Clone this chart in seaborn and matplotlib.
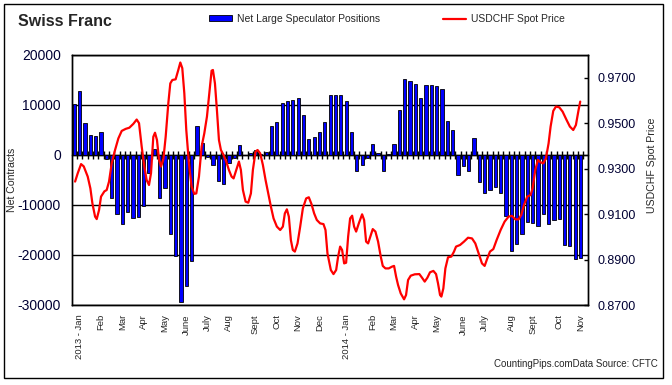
import numpy as np
import pandas as pd
import matplotlib
matplotlib.use("Agg")
import matplotlib.pyplot as plt
from matplotlib.patches import Patch, Rectangle
from matplotlib.lines import Line2D
from matplotlib.ticker import FormatStrFormatter
import seaborn as sns

# weekly net large speculator positions (CFTC), Jan 2013 -> Nov 2014
net_positions = [
    10200, 12800, 6400, 4000, 3800, 4700, -800, -8500, -11700, -13700, -11300, -12500,
    -12300, -10100, -3500, 1200, -8500, -6500, -15700, -20200, -29300, -26100, -21100, 5800,
    2400, -300, -1900, -5100, -5700, -1500, -500, 2000, 100, 400, 1000, 200,
    600, 5800, 6700, 10400, 10800, 11000, 11400, 8000, 3200, 3600, 4600, 6700,
    12000, 12000, 12000, 10800, 4600, -3100, -2000, -600, 2200, 400, -3100, 200,
    2200, 9000, 15200, 14800, 14200, 11400, 14000, 14000, 13800, 13200, 6800, 5000,
    -4000, -2200, -3200, 3400, -5400, -7500, -7000, -6400, -7600, -12100, -19100, -17700,
    -15700, -13300, -13500, -14100, -11700, -13700, -12900, -12700, -17900, -18100, -20700, -20500,
]

month_labels = ["2013 - Jan", "Feb", "Mar", "Apr", "May", "June", "July", "Aug", "Sept",
                "Oct", "Nov", "Dec", "2014 - Jan", "Feb", "Mar", "Apr", "May", "June",
                "July", "Aug", "Sept", "Oct", "Nov"]
month_weeks = [1, 5, 9, 13, 17, 21, 25, 29, 34, 38, 42, 46, 51, 56, 60, 64, 68, 73, 77, 82, 86, 91, 95]

# USDCHF spot price, read at fractional week positions
price_week = [
    0.13, 0.63, 1.25, 1.75, 2.5, 3.0, 3.38, 3.88, 4.19, 4.63, 5.0, 5.63, 6.06, 6.5, 7.0, 7.63,
    8.25, 8.88, 9.63, 10.31, 11.06, 11.69, 12.13, 12.63, 13.13, 13.56, 14.0, 14.38, 14.81, 15.13,
    15.5, 15.88, 16.25, 16.69, 17.13, 17.63, 18.0, 18.38, 19.0, 19.5, 19.88, 20.25, 20.63, 21.0,
    21.5, 22.0, 22.5,
    22.88, 23.38, 23.88, 24.38, 24.88, 25.38, 25.75, 26.0, 26.38, 26.75, 27.13, 27.5, 28.0, 28.5,
    29.0, 29.5, 29.88, 30.38, 30.88, 31.25, 31.63, 32.13, 32.63, 33.13, 33.5, 34.0, 34.38, 34.88,
    35.38, 35.88, 36.38, 36.88, 37.38, 38.0, 38.63, 39.13, 39.5, 39.88, 40.25, 40.63, 41.0, 41.38,
    41.88, 42.38, 42.88, 43.5, 44.0, 44.5, 45.0, 45.5, 46.13, 46.75, 47.13, 47.5,
    48.13, 48.63, 49.13, 49.5, 49.88, 50.25, 50.63, 51.0, 51.38, 51.75, 52.13, 52.5, 52.88, 53.38,
    54.0, 54.38, 54.75, 55.13, 55.5, 56.0, 56.5, 57.0, 57.5, 57.88, 58.38, 59.0, 59.63, 60.0,
    60.38, 60.75, 61.25, 61.88, 62.25, 62.63, 63.13, 63.88, 64.75, 65.25, 65.75, 66.25, 66.75,
    67.38, 67.88, 68.25, 68.63, 68.88, 69.25, 69.63, 70.13, 70.75, 71.25, 71.63,
    72.38, 73.13, 73.88, 74.63, 75.25, 75.88, 76.5, 77.0, 77.5, 78.0, 78.63, 79.25, 80.0, 80.75,
    81.5, 82.13, 82.75, 83.38, 83.88, 84.38, 85.0, 85.63, 86.0, 86.5, 87.0, 87.5, 88.0, 88.5,
    89.0, 89.38, 89.88, 90.38, 91.0, 91.63, 92.38, 93.0, 93.63, 94.13, 94.63, 94.94,
]
price_value = [
    0.9243, 0.9280, 0.9320, 0.9310, 0.9265, 0.9213, 0.9147, 0.9089, 0.9078, 0.9118, 0.9177, 0.9200,
    0.9206, 0.9243, 0.9323, 0.9382, 0.9433, 0.9466, 0.9475, 0.9480, 0.9497, 0.9516, 0.9500, 0.9397,
    0.9309, 0.9250, 0.9228, 0.9280, 0.9440, 0.9458, 0.9426, 0.9340, 0.9309, 0.9340, 0.9440, 0.9588,
    0.9675, 0.9690, 0.9693, 0.9734, 0.9767, 0.9742, 0.9632, 0.9470, 0.9323, 0.9221, 0.9189,
    0.9191, 0.9265, 0.9397, 0.9455, 0.9529, 0.9646, 0.9731, 0.9734, 0.9675, 0.9558, 0.9426, 0.9382,
    0.9360, 0.9331, 0.9294, 0.9265, 0.9257, 0.9294, 0.9331, 0.9294, 0.9206, 0.9155, 0.9150, 0.9191,
    0.9294, 0.9375, 0.9382, 0.9367, 0.9316, 0.9250, 0.9191, 0.9133, 0.9081, 0.9045, 0.9030, 0.9045,
    0.9103, 0.9121, 0.9089, 0.8986, 0.8942, 0.8935, 0.8971, 0.9045, 0.9125, 0.9169, 0.9174, 0.9144,
    0.9103, 0.9074, 0.9059, 0.9056, 0.9030, 0.8927,
    0.8854, 0.8836, 0.8854, 0.8913, 0.8957, 0.8942, 0.8883, 0.8886, 0.9001, 0.9081, 0.9093, 0.9045,
    0.9023, 0.9059, 0.9099, 0.9074, 0.8979, 0.8971, 0.8998, 0.9034, 0.9023, 0.8979, 0.8913, 0.8872,
    0.8861, 0.8861, 0.8869, 0.8872, 0.8825, 0.8788, 0.8751, 0.8725, 0.8744, 0.8810, 0.8829, 0.8835,
    0.8836, 0.8820, 0.8803, 0.8820, 0.8844, 0.8850, 0.8836, 0.8795, 0.8744, 0.8737, 0.8773, 0.8861,
    0.8910, 0.8913, 0.8935, 0.8957,
    0.8964, 0.8979, 0.8996, 0.8993, 0.8971, 0.8927, 0.8883, 0.8872, 0.8905, 0.8935, 0.8946, 0.8986,
    0.9030, 0.9067, 0.9089, 0.9092, 0.9077, 0.9077, 0.9096, 0.9140, 0.9177, 0.9184, 0.9213, 0.9294,
    0.9338, 0.9328, 0.9323, 0.9345, 0.9411, 0.9485, 0.9554, 0.9573, 0.9570, 0.9551, 0.9514, 0.9485,
    0.9470, 0.9492, 0.9558, 0.9595,
]

sns.set_theme(style="white")
plt.rcParams["font.family"] = ["Liberation Sans", "DejaVu Sans"]
plt.rcParams["axes.unicode_minus"] = False

W, H = 672, 385
fig = plt.figure(figsize=(W / 100, H / 100), dpi=100)
ax = fig.add_axes([72 / W, 1 - 305 / H, 516 / W, 250 / H])

df = pd.DataFrame({"week": np.arange(len(net_positions)), "net": net_positions})
sns.barplot(data=df, x="week", y="net", color="#0000ff", saturation=1, width=0.6,
            edgecolor="black", linewidth=0.6, ax=ax)

ymin, ymax = -30000, 20000
ax.set_ylim(ymin, ymax)
ax.set_yticks(np.arange(ymin, ymax + 1, 10000))
ax.yaxis.grid(True, color="black", lw=1)
ax.set_axisbelow(True)
ax.tick_params(axis="y", length=0, labelsize=10, pad=8, labelcolor="#000033")
ax.set_ylabel("Net Contracts", fontsize=7.6)
ax.yaxis.set_label_coords(-0.106, 0.5)

ax.set_xticks(month_weeks)
ax.set_xticklabels(month_labels, rotation=90, fontsize=6.8)
ax.tick_params(axis="x", length=0, pad=6.5)
ax.set_xlabel("")
for s in ax.spines.values():
    s.set_color("black")
    s.set_linewidth(1)

# category axis crossing at zero, with ticks between the weeks
zero_frac = (0 - ymin) / (ymax - ymin)
sec = ax.secondary_xaxis(zero_frac)
between = np.arange(-0.5, len(net_positions), 1.0)
sec.set_xticks(between, labels=[""] * len(between))
sec.tick_params(direction="inout", length=6, width=1, color="black")
for s in sec.spines.values():
    s.set_color("black")
    s.set_linewidth(1)

ax2 = ax.twinx()
sns.lineplot(x=price_week, y=price_value, color="#ff0000", lw=1.6, ax=ax2)
ax2.set_ylim(0.87, 0.98)
ax2.set_yticks(np.arange(0.87, 0.9701, 0.02))
ax2.yaxis.set_major_formatter(FormatStrFormatter("%.4f"))
ax2.tick_params(axis="y", direction="in", length=3, width=1, color="black",
                labelsize=9, labelcolor="#000033", pad=6.5)
ax2.set_ylabel("USDCHF Spot Price", fontsize=7.6)
ax2.yaxis.set_label_coords(1.114, 0.56)
ax2.set_xlabel("")
ax2.grid(False)
for s in ax2.spines.values():
    s.set_color("black")
    s.set_linewidth(1)

ax.set_xlim(-0.45, 96.4)

fig.text(18 / W, 1 - 22 / H, "Swiss Franc", fontsize=11.5, fontweight="bold", va="center")

handles = [Patch(facecolor="#0000ff", edgecolor="black", lw=0.6),
           Line2D([], [], color="#ff0000", lw=1.6)]
fig.legend(handles, ["Net Large Speculator Positions", "USDCHF Spot Price"],
           loc="center left", bbox_to_anchor=(209 / W, 1 - 19 / H), ncol=2, frameon=False,
           fontsize=7.5, handlelength=2.2, handleheight=0.55, handletextpad=0.5,
           columnspacing=6, borderpad=0, borderaxespad=0)

fig.text(658 / W, 1 - 364 / H, "CountingPips.comData Source: CFTC", ha="right",
         va="center", fontsize=7)

fig.add_artist(Rectangle((4 / W, 1 - 378 / H), 659 / W, 374 / H, transform=fig.transFigure,
                         fill=False, edgecolor="black", lw=1))

fig.savefig("out.png", dpi=100)
